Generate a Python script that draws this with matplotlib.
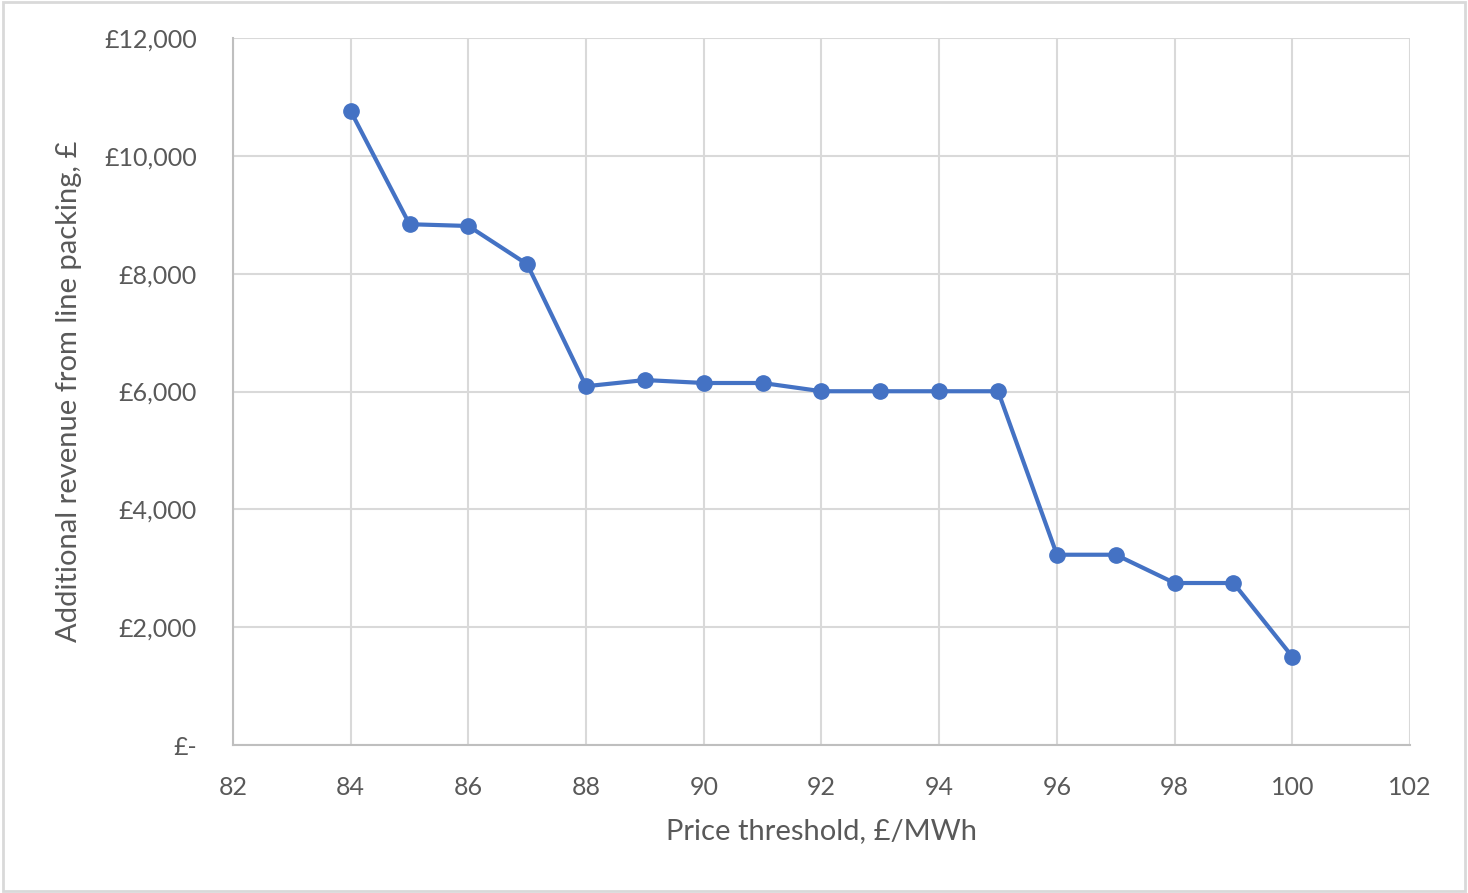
import numpy as np
import matplotlib.pyplot as plt
from matplotlib.ticker import FuncFormatter

# price threshold (£/MWh) and extra revenue (£)
thresholds = [84, 85, 86, 87, 88, 89, 90, 91, 92, 93, 94, 95, 96, 97, 98, 99, 100]
revenue = [10760, 8840, 8810, 8160, 6090, 6195, 6145, 6145, 6005, 6005, 6005, 6005,
           3230, 3230, 2750, 2750, 1500]

plt.rcParams['font.family'] = ['Lato', 'DejaVu Sans']
text_col = '#595959'
grid_col = '#d9d9d9'
blue = '#4472c4'

fig = plt.figure(figsize=(14.68, 8.93), dpi=100)
ax = fig.add_axes([0.1587, 0.1657, 0.8018, 0.7917])

ax.plot(thresholds, revenue, color=blue, linewidth=3, marker='o', markersize=11, zorder=3)

ax.set_xlim(82, 102)
ax.set_ylim(0, 12000)
ax.set_xticks(np.arange(82, 103, 2))
ax.set_yticks(np.arange(0, 12001, 2000))

def pounds(v, pos):
    if v == 0:
        return '£-'
    return '£{:,.0f}'.format(v)

ax.yaxis.set_major_formatter(FuncFormatter(pounds))
ax.grid(True, color=grid_col, linewidth=1.5)
ax.set_axisbelow(True)
for side in ['top', 'right']:
    ax.spines[side].set_visible(False)
for side in ['left', 'bottom']:
    ax.spines[side].set_color('#bfbfbf')
    ax.spines[side].set_linewidth(1.5)
ax.tick_params(length=0, labelsize=18, colors=text_col)
ax.tick_params(axis='x', pad=22)
ax.tick_params(axis='y', pad=26)

ax.set_xlabel('Price threshold, £/MWh', fontsize=21, color=text_col, labelpad=14)
ax.set_ylabel('Additional revenue from line packing, £', fontsize=21, color=text_col, labelpad=16)

# outer chart border
fig.patches.append(plt.Rectangle((0.002, 0.002), 0.996, 0.996, transform=fig.transFigure,
                                 fill=False, edgecolor='#d9d9d9', linewidth=2))

fig.savefig('out.png', dpi=100)
